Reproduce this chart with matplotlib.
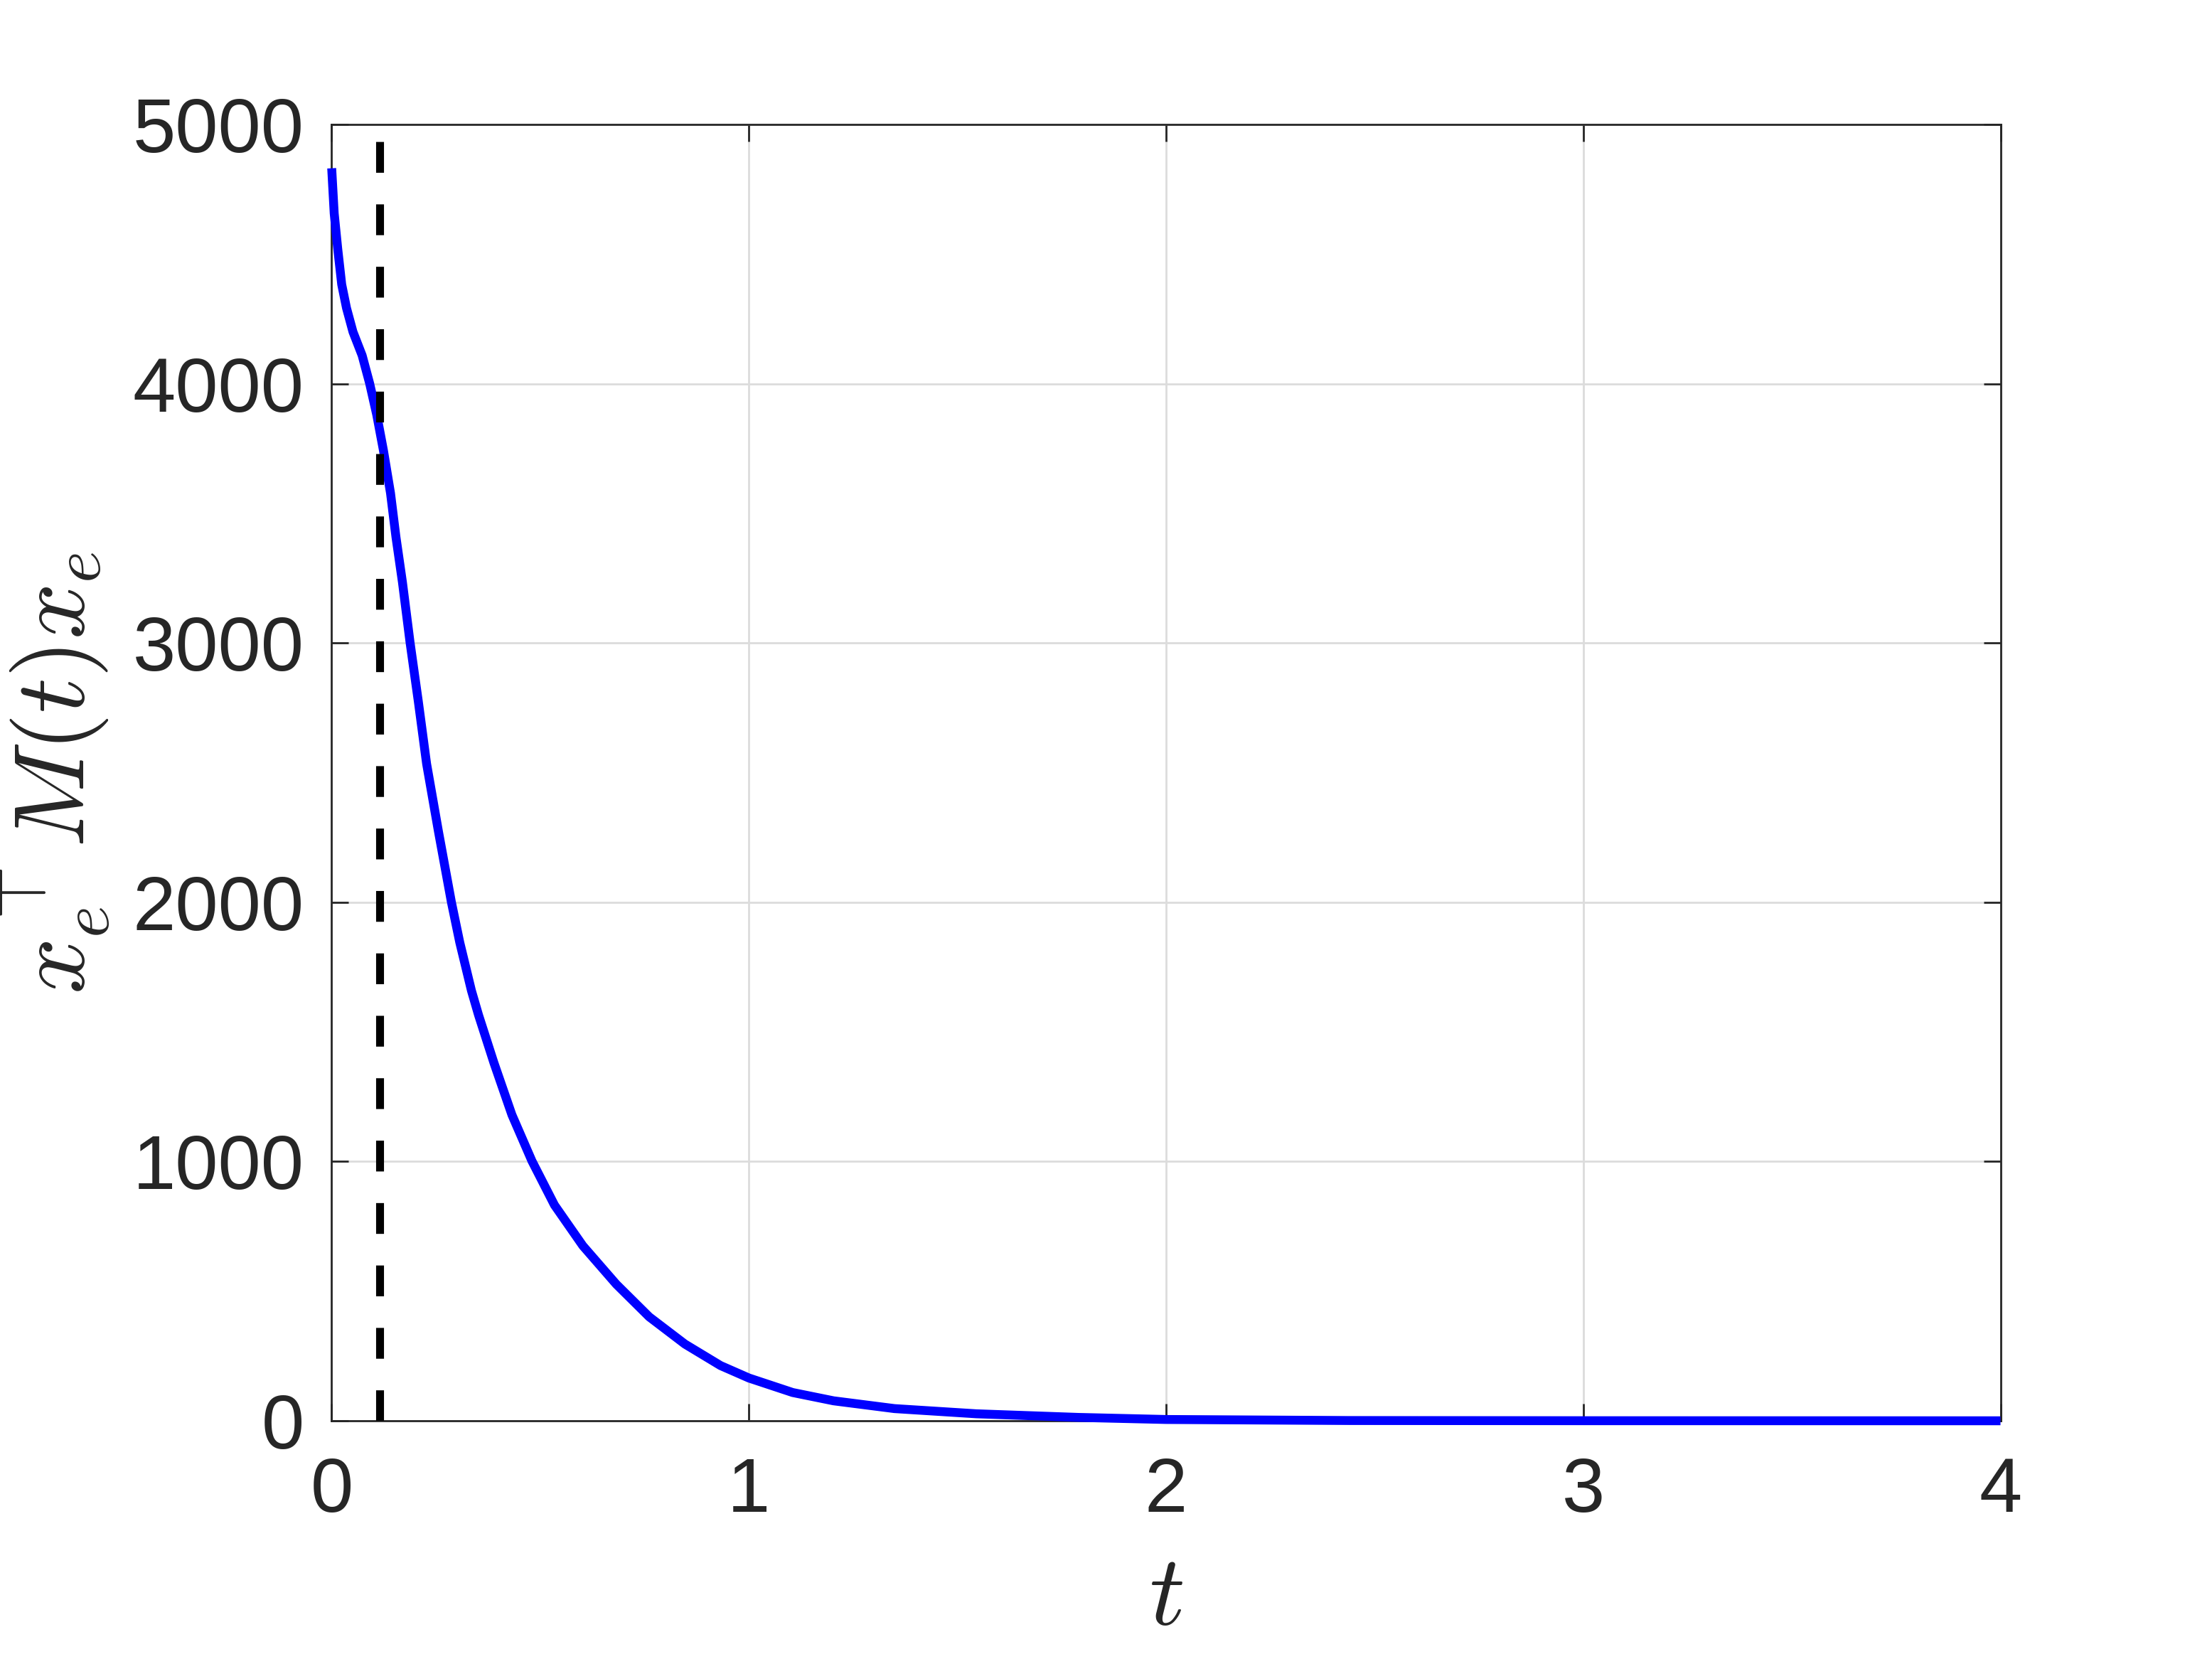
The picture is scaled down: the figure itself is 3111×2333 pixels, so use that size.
import numpy as np
from matplotlib import pyplot as plt

# values
t = [0.0, 0.006, 0.0145, 0.024, 0.0355, 0.051, 0.073, 0.091, 0.108, 0.124,
     0.141, 0.154, 0.1696, 0.188, 0.2076, 0.2275, 0.256, 0.287, 0.307, 0.335,
     0.352, 0.389, 0.432, 0.480, 0.534, 0.602, 0.682, 0.761, 0.8466, 0.932,
     1.0, 1.105, 1.203, 1.349, 1.545, 1.79, 2.0, 2.44, 3.0, 4.0]
energy = [4831, 4657, 4520, 4383, 4292, 4200, 4109, 4001, 3880, 3743,
          3578, 3409, 3234, 3000, 2775, 2534, 2272, 2000, 1845, 1659,
          1565, 1380, 1180, 1002, 832, 675, 527, 401, 296, 213,
          165, 109, 77, 47, 27, 13, 5, 1, 0.3, 0]
t_switch = 0.115          # vertical dashed marker
x_ticks = [0, 1, 2, 3, 4]
y_ticks = [0, 1000, 2000, 3000, 4000, 5000]

plt.rcParams['mathtext.fontset'] = 'cm'
plt.rcParams['font.family'] = ['Liberation Sans', 'DejaVu Sans']
dark = (0.15, 0.15, 0.15)

fig = plt.figure(figsize=(15.555, 11.665), dpi=200)
ax = fig.add_axes([466.5/3111, 1 - 1998/2333, 2347/3111, 1823/2333])

ax.plot(t, energy, color=(0, 0, 1), lw=4.5, solid_capstyle='butt',
        solid_joinstyle='round', clip_on=False, zorder=3)
vl = ax.axvline(t_switch, color='k', lw=4.0, zorder=4)
vl.set_dashes([3.9, 4.0])
vl.set_dash_capstyle('butt')

ax.set_xlim(0, 4)
ax.set_ylim(0, 5000)
ax.set_xticks(x_ticks)
ax.set_yticks(y_ticks)
ax.grid(True, color='#dcdcdc', lw=1.0)
ax.set_axisbelow(True)

for s in ax.spines.values():
    s.set_color(dark)
    s.set_linewidth(1.0)
ax.tick_params(direction='in', length=8.5, width=1.0, color=dark,
               top=True, right=True, labelsize=39, labelcolor=dark)
ax.tick_params(axis='x', pad=18)
ax.tick_params(axis='y', pad=14)

ax.set_xlabel(r'$t$', fontsize=50, color=dark)
ax.xaxis.set_label_coords(0.5, -0.137)
ax.xaxis.label.set_va('center')
ax.set_ylabel(r'$x_e^\top M(t) x_e$', fontsize=50, color=dark)
ax.yaxis.set_label_coords(-0.1655, 0.5)
ax.yaxis.label.set_va('center')

fig.savefig('out.png', dpi=200)
